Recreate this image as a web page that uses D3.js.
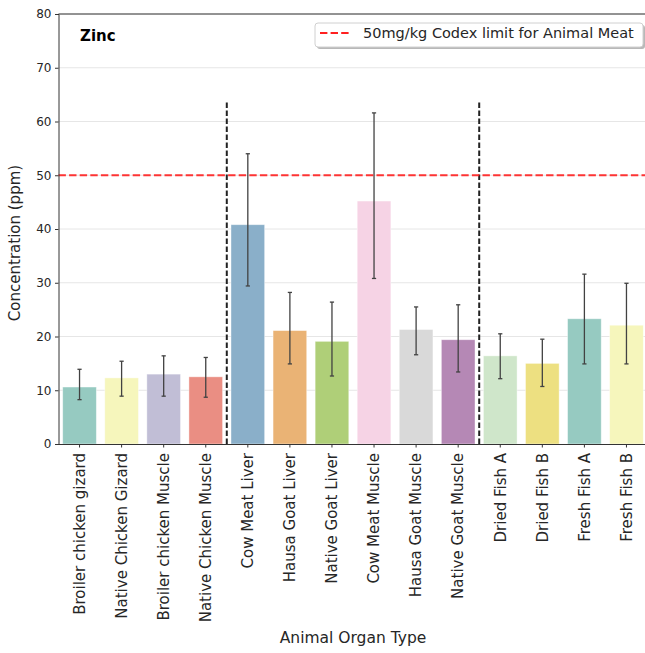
<!DOCTYPE html>
<html>
<head>
<meta charset="utf-8">
<script src="https://cdn.jsdelivr.net/npm/d3@7"></script>
<style>
  body { margin: 0; background: #fff; }
  text { font-family: "DejaVu Sans", sans-serif; fill: #262626; }
</style>
</head>
<body>
<div id="chart"></div>
<script>
// categories and values
const categories = [
  "Broiler chicken gizard", "Native Chicken Gizard", "Broiler chicken Muscle", "Native Chicken Muscle",
  "Cow Meat Liver", "Hausa Goat Liver", "Native Goat Liver", "Cow Meat Muscle",
  "Hausa Goat Muscle", "Native Goat Muscle", "Dried Fish A", "Dried Fish B",
  "Fresh Fish A", "Fresh Fish B"
];
const means = [10.6, 12.3, 13.0, 12.5, 40.8, 21.1, 19.1, 45.2, 21.3, 19.4, 16.4, 15.0, 23.3, 22.1];
const errLow = [8.25, 8.9, 8.9, 8.7, 29.4, 14.9, 12.65, 30.8, 16.6, 13.4, 12.15, 10.7, 14.9, 14.9];
const errHigh = [13.9, 15.4, 16.4, 16.1, 54.0, 28.2, 26.4, 61.6, 25.5, 25.9, 20.5, 19.5, 31.6, 29.9];
const yTicks = [0, 10, 20, 30, 40, 50, 60, 70, 80];
const codexLimit = 50;
const dividerTop = 64;
const groupBreaks = [3, 9]; // divider after these category indices

const W = 645, H = 653;
const margin = {top: 14, left: 58.5, bottom: 209},
    plotRight = 647.5,
    plotBottom = H - margin.bottom;

const svg = d3.select("#chart").append("svg")
    .attr("width", W)
    .attr("height", H);

// scales
const x = d3.scaleBand().domain(categories)
    .range([margin.left, plotRight])
    .paddingInner(0.2).paddingOuter(0.1);
const y = d3.scaleLinear().domain([0, 80]).range([plotBottom, margin.top]);
const step = x.step();

// seaborn style: Set3 with saturation 0.75
const colors = categories.map((c, i) => {
    const h = d3.hsl(d3.schemeSet3[i % 12]);
    h.s *= 0.75;
    return h.formatHex();
});

// grid
svg.append("g").selectAll("line")
    .data(yTicks.slice(1))
    .enter().append("line")
    .attr("x1", margin.left).attr("x2", plotRight)
    .attr("y1", d => y(d)).attr("y2", d => y(d))
    .attr("stroke", "#e6e6e6").attr("stroke-width", 1);

// bars
svg.append("g").selectAll("rect")
    .data(categories)
    .enter().append("rect")
    .attr("x", d => x(d))
    .attr("width", x.bandwidth())
    .attr("y", (d, i) => y(means[i]))
    .attr("height", (d, i) => y(0) - y(means[i]))
    .attr("fill", (d, i) => colors[i])
    .attr("stroke", "#ffffff").attr("stroke-opacity", 0.5).attr("stroke-width", 0.8);

// error bars
const eb = svg.append("g").attr("stroke", "#424242").attr("stroke-width", 1.3);
categories.forEach((c, i) => {
    const cx = x(c) + x.bandwidth() / 2;
    eb.append("line").attr("x1", cx).attr("x2", cx).attr("y1", y(errLow[i])).attr("y2", y(errHigh[i]));
    [errLow[i], errHigh[i]].forEach(v => {
        eb.append("line").attr("x1", cx - step * 0.05).attr("x2", cx + step * 0.05)
            .attr("y1", y(v)).attr("y2", y(v));
    });
});

// group dividers
groupBreaks.forEach(i => {
    const gx = (x(categories[i]) + x(categories[i + 1]) + x.bandwidth()) / 2;
    svg.append("line")
        .attr("x1", gx).attr("x2", gx)
        .attr("y1", y(0)).attr("y2", y(dividerTop))
        .attr("stroke", "#222").attr("stroke-width", 2)
        .attr("stroke-dasharray", "5.5,2.5");
});

// codex limit
svg.append("line")
    .attr("x1", margin.left).attr("x2", plotRight)
    .attr("y1", y(codexLimit)).attr("y2", y(codexLimit))
    .attr("stroke", "#ff2020").attr("stroke-opacity", 0.9).attr("stroke-width", 2)
    .attr("stroke-dasharray", "7.4,3.2");

// axes
const yAxis = svg.append("g")
    .attr("transform", "translate(" + margin.left + ",0)")
    .call(d3.axisLeft(y).tickValues(yTicks).tickSize(3.5).tickPadding(3.5));
yAxis.selectAll("text").style("font-size", "12px").style("font-family", "DejaVu Sans");

const xAxis = svg.append("g")
    .attr("transform", "translate(0," + plotBottom + ")")
    .call(d3.axisBottom(x).tickSize(3.5).tickSizeOuter(0));
xAxis.selectAll("text")
    .attr("transform", "rotate(-90)")
    .attr("x", -9).attr("y", 0).attr("dy", "0.35em")
    .style("text-anchor", "end")
    .style("font-size", "15px").style("font-family", "DejaVu Sans");

svg.selectAll(".domain").attr("stroke", "#333");
svg.selectAll(".tick line").attr("stroke", "#333");

// top spine
svg.append("line")
    .attr("x1", margin.left).attr("x2", plotRight)
    .attr("y1", margin.top).attr("y2", margin.top)
    .attr("stroke", "#333");

// axis labels
svg.append("text")
    .attr("x", (margin.left + plotRight) / 2).attr("y", 643)
    .attr("text-anchor", "middle")
    .style("font-size", "15.5px")
    .text("Animal Organ Type");

svg.append("text")
    .attr("transform", "translate(20," + ((margin.top + plotBottom) / 2 + 14) + ") rotate(-90)")
    .attr("text-anchor", "middle")
    .style("font-size", "15px")
    .text("Concentration (ppm)");

// title inside the plot
svg.append("text")
    .attr("x", 80).attr("y", 41)
    .style("font-size", "15px").style("font-weight", "bold")
    .style("fill", "#000")
    .text("Zinc");

// legend with shadow
const lg = svg.append("g");
lg.append("rect").attr("x", 317).attr("y", 25).attr("width", 328).attr("height", 24)
    .attr("rx", 3).attr("fill", "#888").attr("opacity", 0.6);
lg.append("rect").attr("x", 315).attr("y", 23).attr("width", 328).attr("height", 24)
    .attr("rx", 3).attr("fill", "#fff").attr("stroke", "#d0d0d0");
lg.append("line").attr("x1", 320).attr("x2", 350).attr("y1", 33).attr("y2", 33)
    .attr("stroke", "#ff2020").attr("stroke-width", 2).attr("stroke-dasharray", "7.4,3.2");
lg.append("text").attr("x", 363).attr("y", 38)
    .style("font-size", "14.5px")
    .text("50mg/kg Codex limit for Animal Meat");
</script>
</body>
</html>
